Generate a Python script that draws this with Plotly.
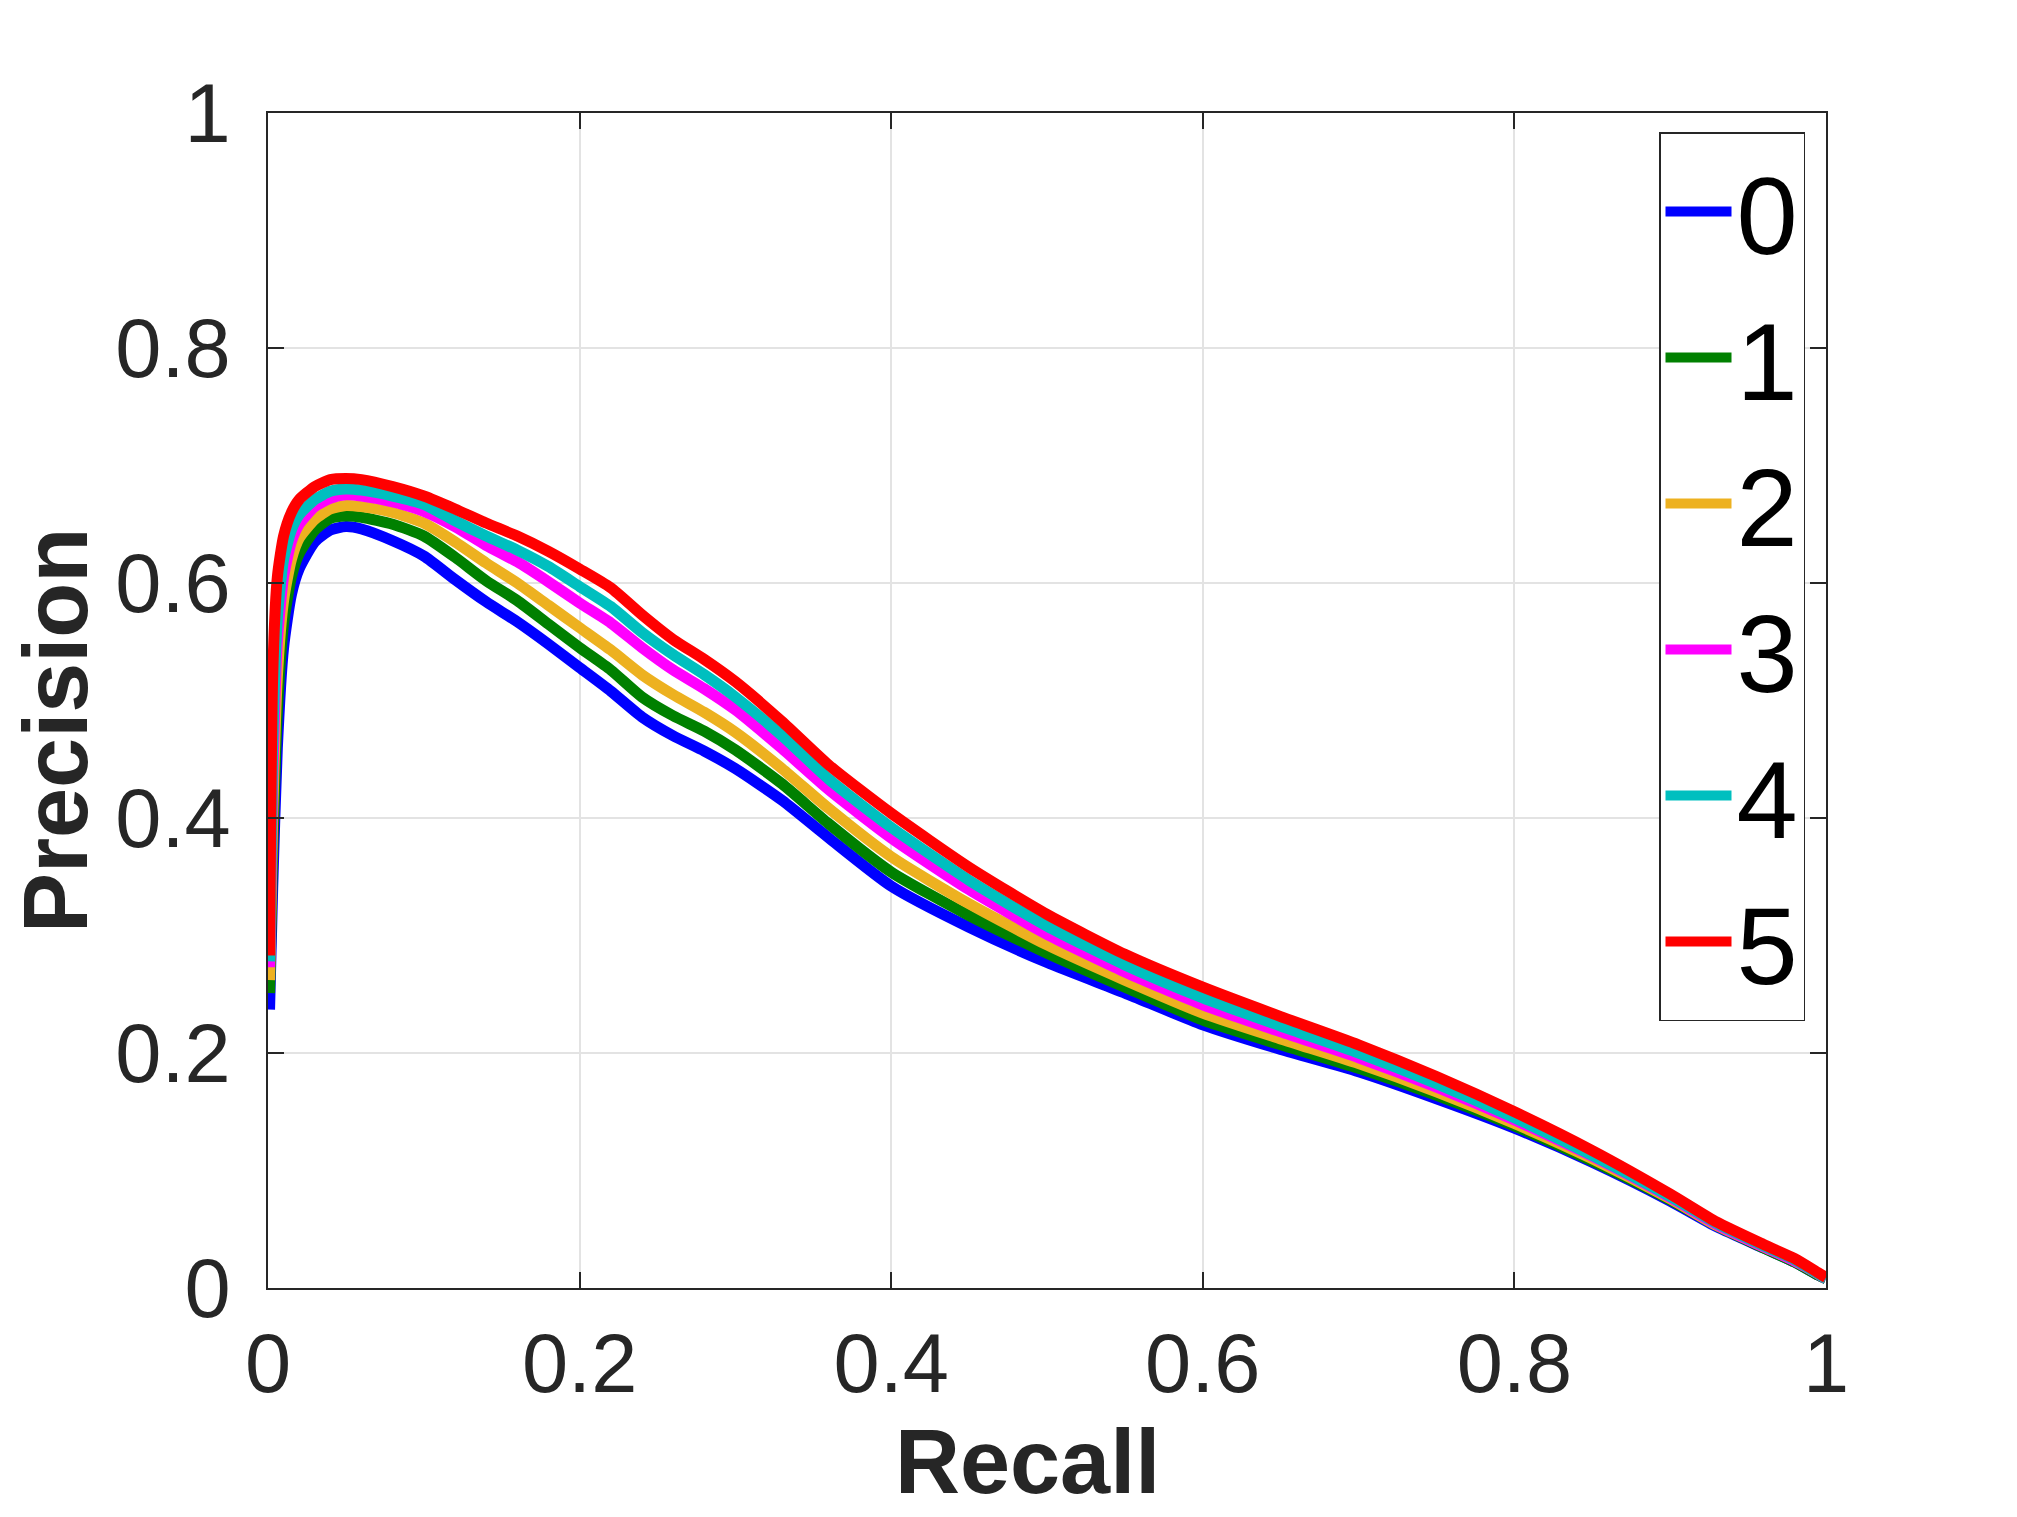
import plotly.graph_objects as go

recall = [0.001, 0.003, 0.006, 0.01, 0.015, 0.02, 0.03, 0.04, 0.05, 0.06, 0.08, 0.1,
          0.12, 0.14, 0.16, 0.18, 0.2, 0.22, 0.24, 0.26, 0.28, 0.3, 0.33, 0.36, 0.4,
          0.45, 0.5, 0.55, 0.6, 0.65, 0.7, 0.75, 0.8, 0.85, 0.9, 0.93, 0.96, 0.98, 0.995, 1.0]

prec_0 = [0.237, 0.34, 0.46, 0.545, 0.59, 0.612, 0.635, 0.645, 0.648, 0.646, 0.636, 0.623,
          0.603, 0.584, 0.567, 0.548, 0.528, 0.508, 0.486, 0.470, 0.457, 0.442, 0.415, 0.383, 0.342,
          0.307, 0.277, 0.251, 0.224, 0.203, 0.184, 0.161, 0.136, 0.107, 0.074, 0.052, 0.034, 0.022, 0.011, 0.008]
prec_1 = [0.251, 0.37, 0.49, 0.565, 0.605, 0.625, 0.645, 0.655, 0.657, 0.656, 0.650, 0.640,
          0.622, 0.602, 0.585, 0.565, 0.545, 0.526, 0.503, 0.487, 0.474, 0.458, 0.429, 0.395, 0.354,
          0.317, 0.285, 0.256, 0.228, 0.207, 0.187, 0.164, 0.138, 0.108, 0.075, 0.053, 0.034, 0.022, 0.011, 0.008]
prec_2 = [0.262, 0.40, 0.52, 0.585, 0.62, 0.638, 0.654, 0.663, 0.666, 0.665, 0.660, 0.651,
          0.635, 0.617, 0.600, 0.581, 0.562, 0.543, 0.522, 0.505, 0.490, 0.473, 0.442, 0.408, 0.367,
          0.327, 0.292, 0.262, 0.234, 0.212, 0.191, 0.167, 0.140, 0.110, 0.076, 0.053, 0.035, 0.023, 0.012, 0.008]
prec_3 = [0.273, 0.43, 0.55, 0.605, 0.635, 0.65, 0.665, 0.672, 0.675, 0.674, 0.669, 0.661,
          0.648, 0.632, 0.618, 0.601, 0.583, 0.566, 0.545, 0.526, 0.510, 0.492, 0.459, 0.424, 0.383,
          0.339, 0.301, 0.269, 0.241, 0.218, 0.196, 0.171, 0.143, 0.112, 0.077, 0.054, 0.035, 0.023, 0.012, 0.008]
prec_4 = [0.278, 0.46, 0.57, 0.62, 0.645, 0.658, 0.671, 0.678, 0.680, 0.679, 0.674, 0.667,
          0.653, 0.640, 0.628, 0.614, 0.597, 0.580, 0.558, 0.539, 0.522, 0.503, 0.470, 0.433, 0.392,
          0.347, 0.308, 0.275, 0.247, 0.223, 0.200, 0.174, 0.145, 0.113, 0.078, 0.055, 0.036, 0.024, 0.012, 0.008]
prec_5 = [0.283, 0.52, 0.605, 0.64, 0.66, 0.671, 0.682, 0.688, 0.689, 0.688, 0.682, 0.674,
          0.663, 0.651, 0.640, 0.627, 0.612, 0.596, 0.573, 0.552, 0.535, 0.516, 0.482, 0.445, 0.404,
          0.358, 0.318, 0.284, 0.256, 0.231, 0.207, 0.180, 0.150, 0.117, 0.080, 0.056, 0.037, 0.025, 0.013, 0.009]

series_names = ["0", "1", "2", "3", "4", "5"]
series_vals = [prec_0, prec_1, prec_2, prec_3, prec_4, prec_5]
colors = ["#0000FF", "#008000", "#EDB120", "#FF00FF", "#00BFBF", "#FF0000"]

tick_vals = [0, 0.2, 0.4, 0.6, 0.8, 1]
tick_text = ["0", "0.2", "0.4", "0.6", "0.8", "1"]

fig = go.Figure()
for name, vals, col in zip(series_names, series_vals, colors):
    fig.add_trace(go.Scatter(x=recall, y=vals, mode="lines", name=name,
                             line=dict(color=col, width=11, shape="spline", smoothing=0.6)))

W, H = 2017, 1517
L, R, T, B = 268, 1826, 113, 1288
FONT = "Liberation Sans, Arial, sans-serif"

axis_common = dict(
    range=[0, 1], tickvals=tick_vals, ticktext=tick_text,
    showline=True, linecolor="#262626", linewidth=1.5, mirror="ticks",
    ticks="inside", ticklen=16, tickwidth=1.5, tickcolor="#262626",
    showgrid=True, gridcolor="#e3e3e3", gridwidth=1.5, zeroline=False,
    tickfont=dict(family=FONT, size=83, color="#262626"),
)

fig.update_layout(
    width=W, height=H,
    margin=dict(l=L, r=W - R, t=T, b=H - B, pad=0),
    paper_bgcolor="white", plot_bgcolor="white",
    xaxis=dict(**axis_common, ticklabelstandoff=3),
    yaxis=dict(**axis_common, ticklabelstandoff=19),
    showlegend=True,
    legend=dict(
        x=(1805 - L) / (R - L), xanchor="right",
        y=(B - 132) / (B - T), yanchor="top",
        bgcolor="white", bordercolor="#262626", borderwidth=1.5,
        font=dict(family=FONT, size=110, color="black"),
        tracegroupgap=0, itemwidth=66,
    ),
    annotations=[
        dict(text="<b>Recall</b>", xref="paper", yref="paper",
             x=(1027 - L) / (R - L), y=(B - 1462) / (B - T), xanchor="center", yanchor="middle",
             showarrow=False, font=dict(family=FONT, size=90, color="#262626")),
        dict(text="<b>Precision</b>", xref="paper", yref="paper",
             x=(56 - L) / (R - L), y=(B - 730) / (B - T), xanchor="center", yanchor="middle",
             textangle=-90,
             showarrow=False, font=dict(family=FONT, size=90, color="#262626")),
    ],
)

fig.write_html("out.html")
